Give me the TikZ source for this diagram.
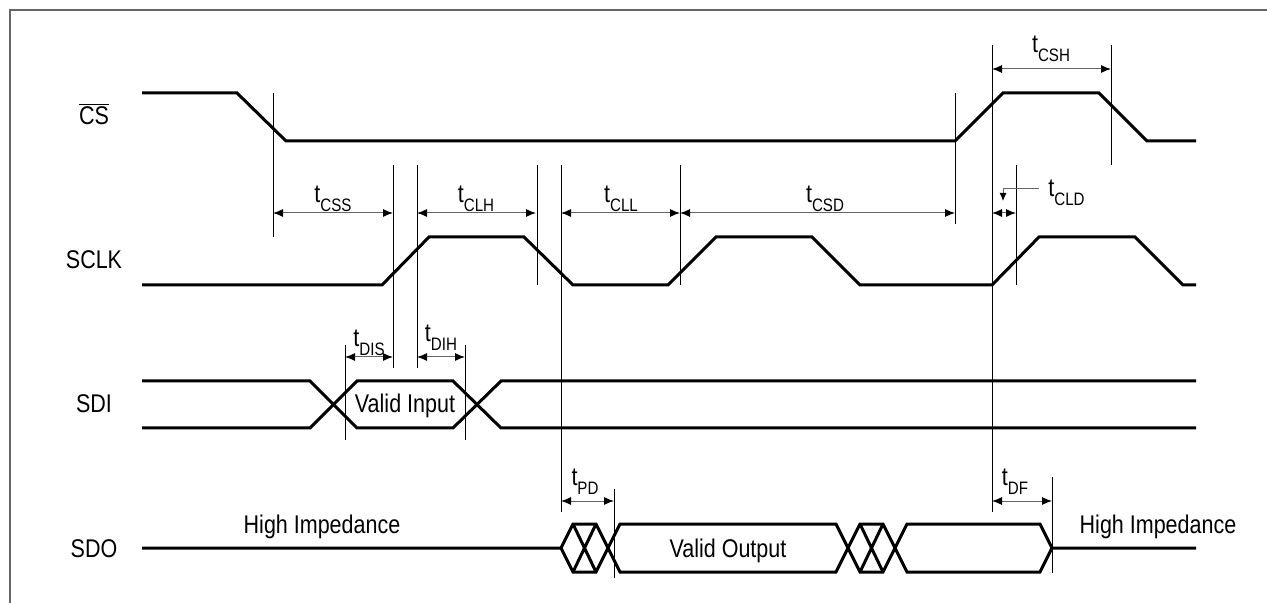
\documentclass[tikz,border=0pt]{standalone}
\usepackage{fontspec}
\setmainfont{Liberation Sans}[FakeStretch=0.84]
\usetikzlibrary{arrows.meta}
\newcommand{\tsub}[1]{t{\fontsize{9}{10}\selectfont\raisebox{-4.5pt}{#1}}}
\tikzset{
  frame/.style={line width=1pt, draw=black!60},
  wave/.style={line width=1.5pt, draw=black, line join=miter},
  guide/.style={line width=0.5pt, draw=black},
  dim/.style={line width=0.5pt, draw=black!60, {Latex[length=5pt,width=4pt,color=black]}-{Latex[length=5pt,width=4pt,color=black]}},
  siglabel/.style={font=\fontsize{12.8}{14}\selectfont, anchor=base, inner sep=0pt},
  timelabel/.style={font=\fontsize{12.8}{14}\selectfont, anchor=base, inner sep=0pt},
}

\begin{document}
\begin{tikzpicture}[x=0.5pt,y=-0.5pt]
\useasboundingbox (0,0) rectangle (1267,603);
\draw[frame] (10,603) -- (10,10) -- (1267,10);

% signal names
\node[siglabel] (cs) at (94,125) {$\overline{\mbox{CS}}$};
\node[siglabel] (sclk) at (94,269) {SCLK};
\node[siglabel] (sdi) at (94,413) {SDI};
\node[siglabel] (sdo) at (94,557) {SDO};

% waveforms
\draw[wave] (142,93) -- (237,93) -- (286,141) -- (955,141) -- (1003,93) -- (1099,93) -- (1147,141) -- (1196,141);
\draw[wave] (142,285) -- (382,285) -- (429,237) -- (524,237) -- (573,285) -- (668,285) -- (716,237) -- (812,237)
  -- (860,285) -- (992,285) -- (1039,237) -- (1135,237) -- (1183,285) -- (1196,285);
\draw[wave] (142,381) -- (310,381) -- (357,428) -- (453,428) -- (501,381) -- (1196,381);
\draw[wave] (142,428) -- (310,428) -- (357,381) -- (453,381) -- (501,428) -- (1196,428);
\draw[wave] (142,548) -- (561,548) -- (573,524) -- (596,524) -- (620,572) -- (836,572) -- (860,524) -- (883,524)
  -- (907,572) -- (1040,572) -- (1052,548) -- (1196,548);
\draw[wave] (561,548) -- (573,572) -- (596,572) -- (620,524) -- (836,524) -- (860,572) -- (883,572)
  -- (907,524) -- (1040,524) -- (1052,548);
\draw[wave] (573,524) -- (596,572) (573,572) -- (596,524);
\draw[wave] (860,524) -- (883,572) (860,572) -- (883,524);

\node[timelabel] (vin) at (405,413) {Valid Input};
\node[timelabel] (vout) at (728,557) {Valid Output};
\node[timelabel] (hiz1) at (322,533) {High Impedance};
\node[timelabel] (hiz2) at (1158,533) {High Impedance};

% reference lines
\foreach \x/\ya/\yb in {273/93/237, 393/165/368, 417/165/368, 345/345/440, 465/345/440,
  537/165/285, 561/165/512, 680/165/285, 955/93/224, 992/45/512, 1111/45/165,
  1016/165/285, 614/489/578, 1052/477/573}
  \draw[guide] (\x,\ya) -- (\x,\yb);

% timing arrows
\foreach \xa/\xb/\y in {273/393/213, 417/536/213, 561/680/213, 680/955/213, 992/1016/213,
  992/1111/69, 345/393/357, 417/465/357, 561/614/501, 992/1052/501}
  \draw[dim] (\xa,\y) -- (\xb,\y);
\draw[line width=0.5pt, draw=black!60, -{Latex[length=4pt,width=3.5pt,color=black]}] (1039,189) -- (1003,189) -- (1003,201);

\node[timelabel] (tcss) at (333,203) {\tsub{CSS}};
\node[timelabel] (tclh) at (476,203) {\tsub{CLH}};
\node[timelabel] (tcll) at (621,203) {\tsub{CLL}};
\node[timelabel] (tcsd) at (825,203) {\tsub{CSD}};
\node[timelabel] (tcsh) at (1051,53) {\tsub{CSH}};
\node[timelabel, anchor=base west] (tcld) at (1048,197) {\tsub{CLD}};
\node[timelabel] (tdis) at (369,347) {\tsub{DIS}};
\node[timelabel] (tdih) at (441,342) {\tsub{DIH}};
\node[timelabel] (tpd) at (585,485) {\tsub{PD}};
\node[timelabel] (tdf) at (1015,485) {\tsub{DF}};
\end{tikzpicture}
\end{document}
